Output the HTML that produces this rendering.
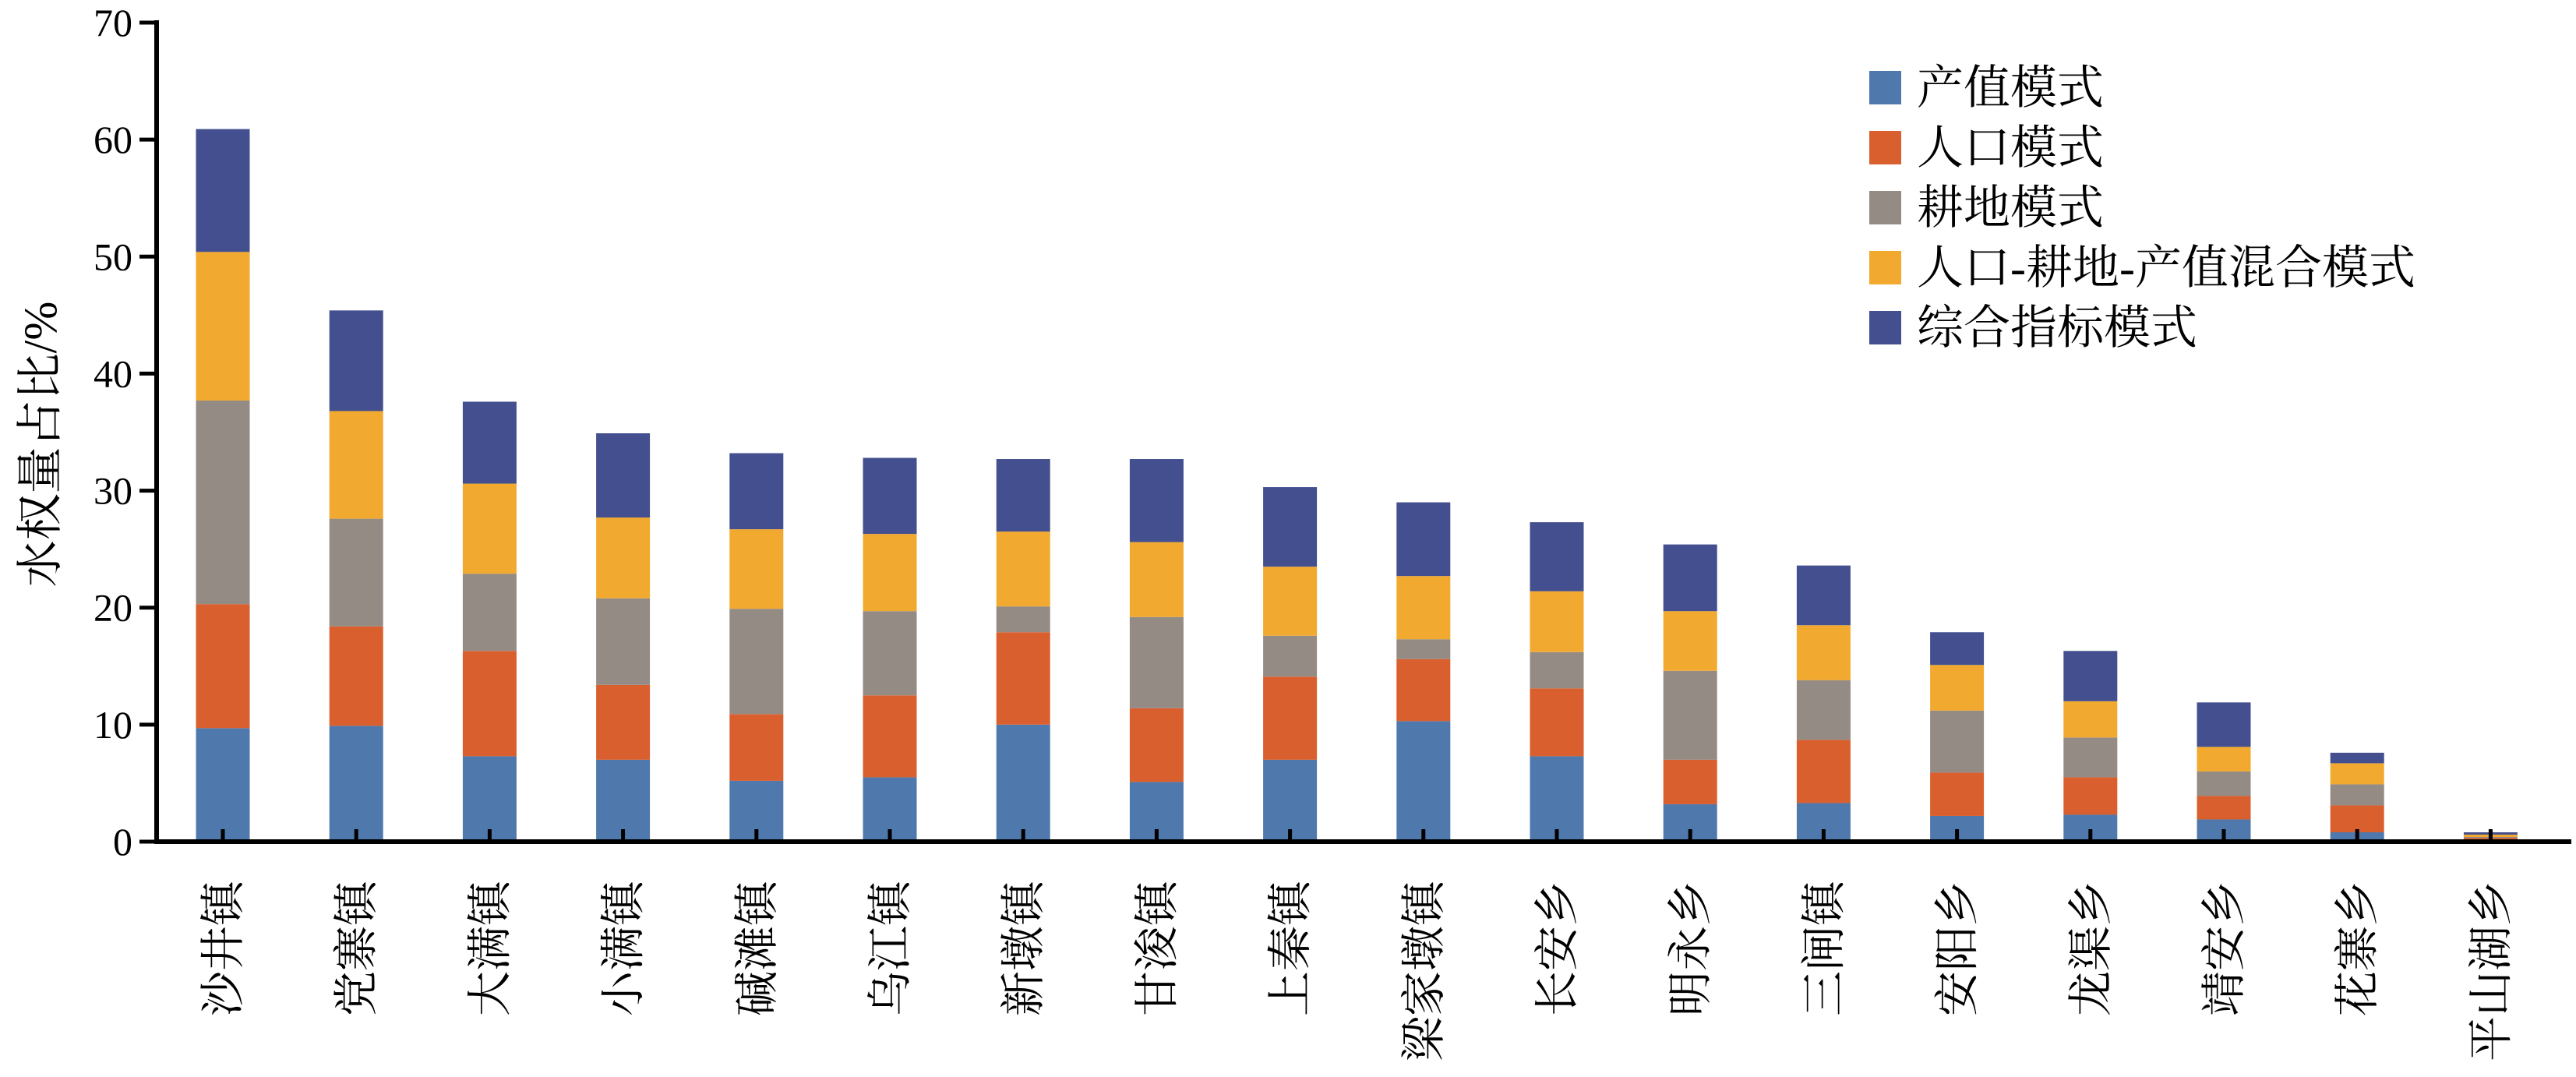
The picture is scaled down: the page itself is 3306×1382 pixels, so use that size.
<!DOCTYPE html>
<html><head><meta charset="utf-8">
<style>
html,body{margin:0;padding:0;background:#fff;}
svg{display:block;}
text{font-family:"Liberation Serif","Noto Serif CJK SC",serif;fill:#000;}
</style></head>
<body>
<svg id="chart" width="3306" height="1382" viewBox="0 0 3306 1382" xmlns="http://www.w3.org/2000/svg">
<g id="bars"></g>
<g id="axes"></g>
<g id="legend"></g>
<text x="0" y="0" font-size="60" text-anchor="middle" transform="translate(72,570) rotate(-90)">水权量占比/%</text>
</svg>
<script>
const categories = ["沙井镇","党寨镇","大满镇","小满镇","碱滩镇","乌江镇","新墩镇","甘浚镇","上秦镇","梁家墩镇","长安乡","明永乡","三闸镇","安阳乡","龙渠乡","靖安乡","花寨乡","平山湖乡"];
const seriesNames = ["产值模式","人口模式","耕地模式","人口-耕地-产值混合模式","综合指标模式"];
const outputMode =     [9.7, 9.9, 7.3, 7.0, 5.2, 5.5, 10.0, 5.1, 7.0, 10.3, 7.3, 3.2, 3.3, 2.2, 2.3, 1.9, 0.8, 0.1];
const populationMode = [10.6, 8.5, 9.0, 6.4, 5.7, 7.0, 7.9, 6.3, 7.1, 5.3, 5.8, 3.8, 5.4, 3.7, 3.2, 2.0, 2.3, 0.2];
const farmlandMode =   [17.4, 9.2, 6.6, 7.4, 9.0, 7.2, 2.2, 7.8, 3.5, 1.7, 3.1, 7.6, 5.1, 5.3, 3.4, 2.1, 1.8, 0.1];
const mixedMode =      [12.7, 9.2, 7.7, 6.9, 6.8, 6.6, 6.4, 6.4, 5.9, 5.4, 5.2, 5.1, 4.7, 3.9, 3.1, 2.1, 1.8, 0.2];
const compositeMode =  [10.5, 8.6, 7.0, 7.2, 6.5, 6.5, 6.2, 7.1, 6.8, 6.3, 5.9, 5.7, 5.1, 2.8, 4.3, 3.8, 0.9, 0.2];
const yTicks = [0,10,20,30,40,50,60,70];
const colors = ["#4f79ad","#da5f2e","#948b84","#f2a92f","#434f8e"];
const series = [outputMode, populationMode, farmlandMode, mixedMode, compositeMode];

const NS = "http://www.w3.org/2000/svg";
const X0 = 201, Y0 = 1080, YTOP = 29, YMAX = 70;
const firstCenter = 286, step = 171.2, barW = 69;
function yScale(v){ return Y0 - v/YMAX*(Y0-YTOP); }
function xScale(i){ return firstCenter + i*step; }
function mk(tag, attrs, parent){ const e=document.createElementNS(NS,tag); for(const k in attrs) e.setAttribute(k,attrs[k]); parent.appendChild(e); return e; }

const bars = document.getElementById('bars');
categories.forEach((c,i)=>{
  let base = 0;
  series.forEach((s,j)=>{
    const v = s[i];
    const r = mk('rect',{x:xScale(i)-barW/2, y:yScale(base+v), width:barW, height:yScale(base)-yScale(base+v), fill:colors[j]}, bars);
    
    
    base += v;
  });
});

const axes = document.getElementById('axes');
const ya = mk('line',{x1:X0,y1:YTOP-3,x2:X0,y2:Y0+3,stroke:'#000','stroke-width':6}, axes);


const xa = mk('line',{x1:X0-3,y1:Y0,x2:3300,y2:Y0,stroke:'#000','stroke-width':6}, axes);


yTicks.forEach(t=>{
  const y = yScale(t);
  const tk = mk('line',{x1:X0-22,y1:y,x2:X0,y2:y,stroke:'#000','stroke-width':5}, axes);
  
  
  const lb = mk('text',{x:170,y:y+17,'font-size':50,'text-anchor':'end'}, axes);
  lb.textContent = t;
  
  
});
categories.forEach((c,i)=>{
  const x = xScale(i);
  const tk = mk('line',{x1:x,y1:Y0,x2:x,y2:Y0-16,stroke:'#000','stroke-width':5}, axes);
  
  
  const lb = mk('text',{x:0,y:0,'font-size':58,'text-anchor':'end',transform:`translate(${x+20},1130) rotate(-90)`}, axes);
  lb.textContent = c;
  
  
});

const legend = document.getElementById('legend');
seriesNames.forEach((n,j)=>{
  const cy = 112 + j*77;
  const sq = mk('rect',{x:2399,y:cy-21,width:41,height:43,fill:colors[j]}, legend);
  
  
  const tx = mk('text',{x:2460,y:cy+21,'font-size':60}, legend);
  tx.textContent = n;
  
  
});
</script>
</body></html>
